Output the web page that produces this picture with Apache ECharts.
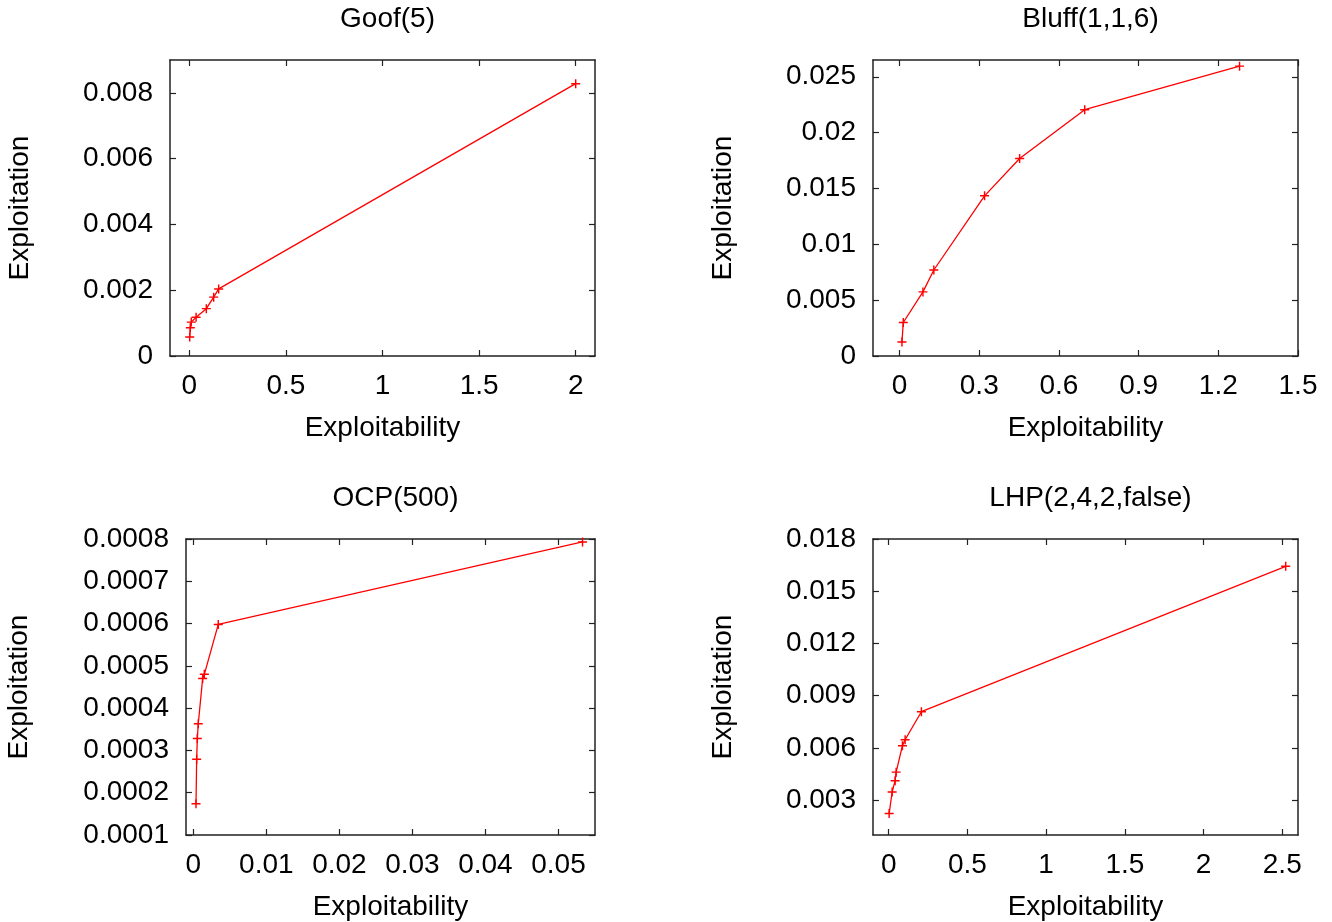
<!DOCTYPE html>
<html>
<head>
<meta charset="utf-8">
<script src="https://cdn.jsdelivr.net/npm/echarts@6/dist/echarts.min.js"></script>
<style>
html,body{margin:0;padding:0;background:#fff;}
#c{width:1332px;height:922px;}
</style>
</head>
<body>
<div id="c"></div>
<script>
// ---- data ----
const titles = ['Goof(5)', 'Bluff(1,1,6)', 'OCP(500)', 'LHP(2,4,2,false)'];

const goofX = [0.002, 0.005, 0.010, 0.035, 0.088, 0.126, 0.152, 2.0];
const goofY = [0.00058, 0.00086, 0.00103, 0.00118, 0.00144, 0.00179, 0.00204, 0.00828];

const bluffX = [0.009, 0.014, 0.088, 0.129, 0.320, 0.452, 0.697, 1.280];
const bluffY = [0.00125, 0.0030, 0.00574, 0.0077, 0.01434, 0.01768, 0.02205, 0.02595];

const ocpX = [0.00037, 0.00046, 0.00055, 0.00068, 0.00128, 0.00151, 0.00342, 0.05329];
const ocpY = [0.000174, 0.000279, 0.000328, 0.000363, 0.000470, 0.000480, 0.000598, 0.000793];

const lhpX = [0.0025, 0.0216, 0.0406, 0.047, 0.087, 0.104, 0.2075, 2.522];
const lhpY = [0.00223, 0.00347, 0.00412, 0.00461, 0.00613, 0.00647, 0.00808, 0.01643];

// ---- ticks ----
const goofXTicks = [0, 0.5, 1, 1.5, 2];
const goofXLabels = ['0', '0.5', '1', '1.5', '2'];
const goofYTicks = [0, 0.002, 0.004, 0.006, 0.008];
const goofYLabels = ['0', '0.002', '0.004', '0.006', '0.008'];

const bluffXTicks = [0, 0.3, 0.6, 0.9, 1.2, 1.5];
const bluffXLabels = ['0', '0.3', '0.6', '0.9', '1.2', '1.5'];
const bluffYTicks = [0, 0.005, 0.01, 0.015, 0.02, 0.025];
const bluffYLabels = ['0', '0.005', '0.01', '0.015', '0.02', '0.025'];

const ocpXTicks = [0, 0.01, 0.02, 0.03, 0.04, 0.05];
const ocpXLabels = ['0', '0.01', '0.02', '0.03', '0.04', '0.05'];
const ocpYTicks = [0.0001, 0.0002, 0.0003, 0.0004, 0.0005, 0.0006, 0.0007, 0.0008];
const ocpYLabels = ['0.0001', '0.0002', '0.0003', '0.0004', '0.0005', '0.0006', '0.0007', '0.0008'];

const lhpXTicks = [0, 0.5, 1, 1.5, 2, 2.5];
const lhpXLabels = ['0', '0.5', '1', '1.5', '2', '2.5'];
const lhpYTicks = [0.003, 0.006, 0.009, 0.012, 0.015, 0.018];
const lhpYLabels = ['0.003', '0.006', '0.009', '0.012', '0.015', '0.018'];

const xName = 'Exploitability';
const yName = 'Exploitation';

// ---- layout / style ----
const FONT = 'Liberation Sans, Arial, Helvetica, sans-serif';
const FS = 28;
const panels = [
  {x: goofX, y: goofY, xt: goofXTicks, xl: goofXLabels, yt: goofYTicks, yl: goofYLabels,
   xr: [-0.1, 2.1], yr: [0, 0.009], grid: {left: 170, top: 60, width: 425, height: 296}, ng: 136},
  {x: bluffX, y: bluffY, xt: bluffXTicks, xl: bluffXLabels, yt: bluffYTicks, yl: bluffYLabels,
   xr: [-0.1, 1.5], yr: [0, 0.0265], grid: {left: 873, top: 60, width: 425, height: 296}, ng: 136},
  {x: ocpX, y: ocpY, xt: ocpXTicks, xl: ocpXLabels, yt: ocpYTicks, yl: ocpYLabels,
   xr: [-0.001, 0.055], yr: [0.0001, 0.0008], grid: {left: 186, top: 539, width: 409, height: 297}, ng: 153},
  {x: lhpX, y: lhpY, xt: lhpXTicks, xl: lhpXLabels, yt: lhpYTicks, yl: lhpYLabels,
   xr: [-0.1, 2.6], yr: [0.001, 0.018], grid: {left: 873, top: 539, width: 425, height: 297}, ng: 136}
];

const lineCol = '#222';
const plusPath = 'path://M0.42,0 H0.58 V0.42 H1 V0.58 H0.58 V1 H0.42 V0.58 H0 V0.42 H0.42 Z';

function fmt(ticks, labels) {
  return function (v) {
    const i = ticks.findIndex(t => Math.abs(t - v) < 1e-12);
    return i >= 0 ? labels[i] : '';
  };
}

const option = {
  backgroundColor: '#fff',
  animation: false,
  title: [], grid: [], xAxis: [], yAxis: [], series: []
};

panels.forEach((p, i) => {
  option.grid.push(Object.assign({containLabel: false}, p.grid));
  option.title.push({
    text: titles[i],
    left: p.grid.left + p.grid.width / 2,
    top: p.grid.top - 60,
    textAlign: 'center',
    textStyle: {fontFamily: FONT, fontSize: FS, fontWeight: 'normal', color: '#000'}
  });
  const baseAxis = {
    type: 'value',
    gridIndex: i,
    splitLine: {show: false},
    axisLine: {show: true, onZero: false, lineStyle: {color: lineCol, width: 1.5}},
  };
  option.xAxis.push(Object.assign({}, baseAxis, {
    position: 'bottom', min: p.xr[0], max: p.xr[1],
    name: xName, nameLocation: 'middle', nameGap: 58,
    nameTextStyle: {fontFamily: FONT, fontSize: FS, color: '#000'},
    axisTick: {show: true, inside: true, length: 6, customValues: p.xt, lineStyle: {color: lineCol, width: 1.2}},
    axisLabel: {show: true, margin: 16, customValues: p.xt, formatter: fmt(p.xt, p.xl),
      fontFamily: FONT, fontSize: FS, color: '#000'}
  }));
  option.xAxis.push(Object.assign({}, baseAxis, {
    position: 'top', min: p.xr[0], max: p.xr[1],
    axisTick: {show: true, inside: true, length: 6, customValues: p.xt, lineStyle: {color: lineCol, width: 1.2}},
    axisLabel: {show: false}
  }));
  option.yAxis.push(Object.assign({}, baseAxis, {
    position: 'left', min: p.yr[0], max: p.yr[1],
    name: yName, nameLocation: 'middle', nameGap: p.ng, nameRotate: 90,
    nameTextStyle: {fontFamily: FONT, fontSize: FS, color: '#000'},
    axisTick: {show: true, inside: true, length: 6, customValues: p.yt, lineStyle: {color: lineCol, width: 1.2}},
    axisLabel: {show: true, margin: 17, customValues: p.yt, formatter: fmt(p.yt, p.yl),
      fontFamily: FONT, fontSize: FS, color: '#000'}
  }));
  option.yAxis.push(Object.assign({}, baseAxis, {
    position: 'right', min: p.yr[0], max: p.yr[1],
    axisTick: {show: true, inside: true, length: 6, customValues: p.yt, lineStyle: {color: lineCol, width: 1.2}},
    axisLabel: {show: false}
  }));
  option.series.push({
    type: 'line',
    xAxisIndex: i * 2,
    yAxisIndex: i * 2,
    data: p.x.map((v, k) => [v, p.y[k]]),
    symbol: plusPath,
    symbolSize: 9,
    showAllSymbol: true,
    lineStyle: {color: '#ff0000', width: 1.3},
    itemStyle: {color: '#ff0000'},
    emphasis: {disabled: true},
    silent: true,
    clip: false
  });
});

const chart = echarts.init(document.getElementById('c'), null, {renderer: 'canvas'});
chart.setOption(option);
</script>
</body>
</html>
